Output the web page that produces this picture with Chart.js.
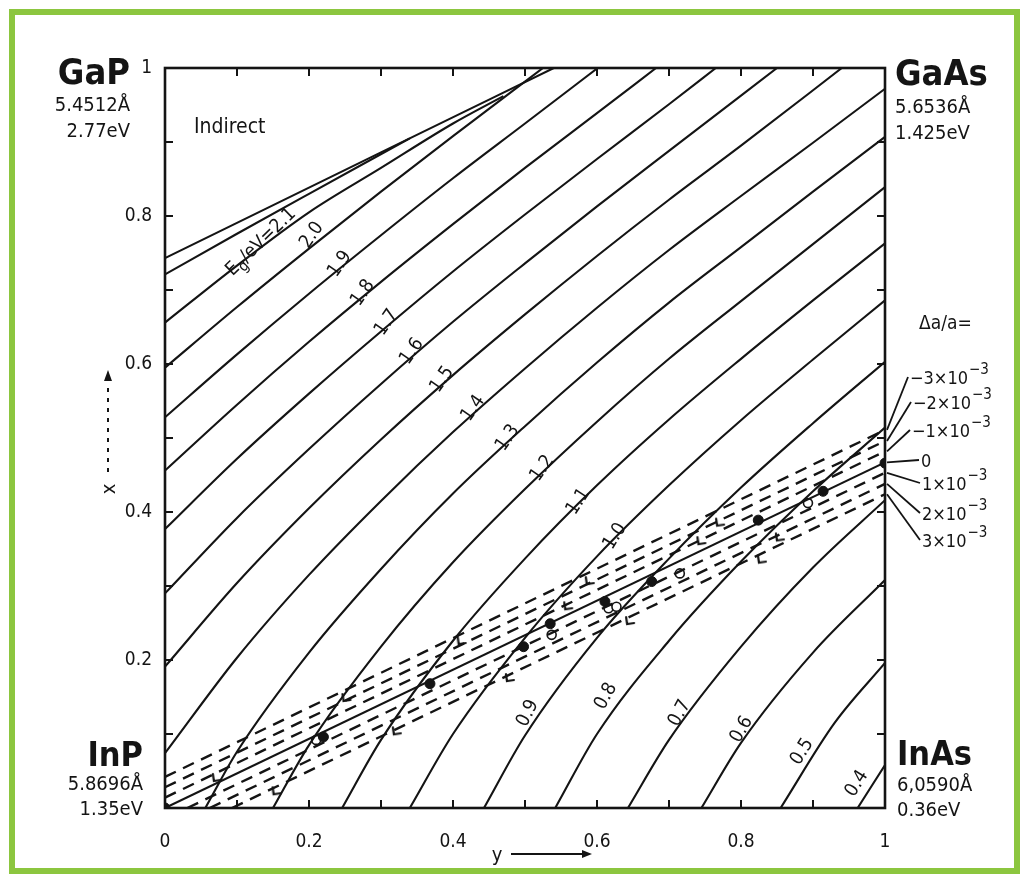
<!DOCTYPE html>
<html>
<head>
<meta charset="utf-8">
<script src="https://cdn.jsdelivr.net/npm/chart.js@4/dist/chart.umd.min.js"></script>
<style>
  html, body { margin: 0; padding: 0; background: #fff; }
  canvas { display: block; }
</style>
</head>
<body>
<canvas id="chart" width="1023" height="878"></canvas>
<script>
// Ga(x) In(1-x) As(y) P(1-y): band-gap contours and lattice-mismatch lines.
// Every curve is a list of [y, x] pairs: y = As fraction (horizontal), x = Ga fraction (vertical).

const yTickValues = [0, 0.2, 0.4, 0.6, 0.8, 1];
const xTickValues = [0.2, 0.4, 0.6, 0.8, 1];

// band-gap contours, Eg in eV
const eg04 = [[0.962, 0], [1, 0.058]];
const eg05 = [[0.855, 0], [0.93, 0.115], [1, 0.196]];
const eg06 = [[0.745, 0], [0.8, 0.088], [0.9, 0.21], [1, 0.308]];
const eg07 = [[0.643, 0], [0.7, 0.092], [0.8, 0.218], [0.9, 0.325], [1, 0.416]];
const eg08 = [[0.542, 0], [0.6, 0.100], [0.7, 0.226], [0.8, 0.333], [0.9, 0.428], [1, 0.514]];
const eg09 = [[0.443, 0], [0.5, 0.098], [0.6, 0.230], [0.7, 0.337], [0.8, 0.433], [0.9, 0.520], [1, 0.603]];
const eg10 = [[0.340, 0], [0.4, 0.100], [0.5, 0.230], [0.6, 0.340], [0.7, 0.436], [0.8, 0.524], [0.9, 0.606], [1, 0.686]];
const eg11 = [[0.246, 0], [0.3, 0.092], [0.4, 0.226], [0.5, 0.337], [0.6, 0.436], [0.7, 0.525], [0.8, 0.607], [0.9, 0.686], [1, 0.763]];
const eg12 = [[0.150, 0], [0.2, 0.085], [0.3, 0.218], [0.4, 0.332], [0.5, 0.431], [0.6, 0.522], [0.7, 0.607], [0.8, 0.685], [0.9, 0.762], [1, 0.839]];
const eg13 = [[0.056, 0], [0.1, 0.076], [0.2, 0.210], [0.3, 0.323], [0.4, 0.425], [0.5, 0.516], [0.6, 0.602], [0.7, 0.683], [0.8, 0.758], [0.9, 0.833], [1, 0.907]];
const eg14 = [[0, 0.074], [0.1, 0.203], [0.2, 0.315], [0.3, 0.415], [0.4, 0.508], [0.5, 0.594], [0.6, 0.676], [0.7, 0.754], [0.8, 0.827], [0.9, 0.899], [1, 0.972]];
const eg15 = [[0, 0.191], [0.1, 0.304], [0.2, 0.405], [0.3, 0.498], [0.4, 0.585], [0.5, 0.667], [0.6, 0.746], [0.7, 0.822], [0.8, 0.895], [0.94, 1]];
const eg16 = [[0, 0.290], [0.1, 0.392], [0.2, 0.485], [0.3, 0.573], [0.4, 0.657], [0.5, 0.736], [0.6, 0.813], [0.7, 0.888], [0.85, 1]];
const eg17 = [[0, 0.377], [0.1, 0.472], [0.2, 0.560], [0.3, 0.644], [0.4, 0.725], [0.5, 0.802], [0.6, 0.877], [0.7, 0.951], [0.765, 1]];
const eg18 = [[0, 0.456], [0.1, 0.545], [0.2, 0.630], [0.3, 0.711], [0.4, 0.789], [0.5, 0.865], [0.6, 0.939], [0.682, 1]];
const eg19 = [[0, 0.528], [0.1, 0.613], [0.2, 0.695], [0.3, 0.774], [0.4, 0.851], [0.5, 0.925], [0.601, 1]];
const eg20 = [[0, 0.595], [0.1, 0.677], [0.2, 0.756], [0.3, 0.833], [0.4, 0.908], [0.525, 1]];
const eg21 = [[0, 0.656], [0.1, 0.733], [0.2, 0.805], [0.3, 0.865], [0.4, 0.925], [0.47, 0.962]];
const eg22 = [[0, 0.721], [0.1, 0.776], [0.2, 0.830], [0.34, 0.905]];
// direct / indirect crossover
const indirectEdge = [[0, 0.743], [0.3, 0.886], [0.54, 1]];

// lattice mismatch relative to InP, Δa/a
const mismatchM3 = [[0, 0.042], [1, 0.511]];
const mismatchM2 = [[0, 0.028], [1, 0.496]];
const mismatchM1 = [[0, 0.014], [1, 0.482]];
const mismatch0  = [[0, 0], [1, 0.467]];
const mismatchP1 = [[0.031, 0], [1, 0.453]];
const mismatchP2 = [[0.062, 0], [1, 0.438]];
const mismatchP3 = [[0.093, 0], [1, 0.424]];

// measured lattice-matched samples
const samplesFilled = [[0, 0], [0.22, 0.096], [0.368, 0.168], [0.498, 0.218], [0.535, 0.249], [0.611, 0.279],
                       [0.676, 0.306], [0.824, 0.389], [0.914, 0.428], [1, 0.466]];
const samplesOpen = [[0.21, 0.092], [0.537, 0.234], [0.616, 0.270], [0.627, 0.272], [0.715, 0.317], [0.893, 0.412]];
// arrow marks where contours leave the ±3×10⁻³ band
const bandEdgeMarks = [[0.072, 0.042], [0.155, 0.024], [0.252, 0.150], [0.322, 0.105], [0.412, 0.227],
                       [0.479, 0.177], [0.560, 0.274], [0.590, 0.308], [0.646, 0.254], [0.745, 0.362],
                       [0.771, 0.387], [0.829, 0.337], [0.854, 0.367]];

// contour label texts
const gapLabelTexts = ['2.0', '1.9', '1.8', '1.7', '1.6', '1.5', '1.4', '1.3', '1.2', '1.1', '1.0',
                       '0.9', '0.8', '0.7', '0.6', '0.5', '0.4'];
const mismatchLabelTexts = ['−3×10', '−2×10', '−1×10', '0', '1×10', '2×10', '3×10'];

const FONT = '"DejaVu Sans Condensed", "Liberation Sans Narrow", "DejaVu Sans", sans-serif';
const INK = '#141414';

// where each contour label sits: [y, x, rotation in degrees]
const gapLabelSpots = [
  [0.204, 0.774, -55], [0.243, 0.735, -55], [0.275, 0.696, -55], [0.308, 0.656, -55], [0.343, 0.617, -55],
  [0.385, 0.579, -55], [0.428, 0.540, -55], [0.476, 0.500, -55], [0.524, 0.459, -55], [0.574, 0.414, -57],
  [0.625, 0.367, -58], [0.504, 0.128, -64], [0.6125, 0.151, -62], [0.715, 0.128, -62], [0.801, 0.106, -60],
  [0.885, 0.076, -58], [0.961, 0.033, -58]
];
// label anchors for the Δa/a legend on the right (canvas px): [left, baseline]
const mismatchLabelSpots = [[910, 384], [913, 409], [912, 437], [921, 467], [922, 490], [922, 520], [922, 547]];

// small open arrowhead used for the band-edge marks
const chevron = (() => {
  const c = document.createElement('canvas');
  c.width = 14; c.height = 14;
  const g = c.getContext('2d');
  g.strokeStyle = INK; g.lineWidth = 2.2; g.lineCap = 'round';
  g.beginPath(); g.moveTo(3, 4); g.lineTo(4, 11); g.lineTo(11, 10); g.stroke();
  return c;
})();

const pts = arr => arr.map(p => ({ x: p[0], y: p[1] }));
const contour = arr => ({
  data: pts(arr), showLine: true, pointRadius: 0, borderColor: INK, borderWidth: 2.1,
  cubicInterpolationMode: 'monotone', fill: false
});
const dashed = arr => ({
  data: pts(arr), showLine: true, pointRadius: 0, borderColor: INK, borderWidth: 2.4,
  borderDash: [12, 8], fill: false
});

const contours = [eg04, eg05, eg06, eg07, eg08, eg09, eg10, eg11, eg12, eg13, eg14, eg15, eg16,
                  eg17, eg18, eg19, eg20, eg21, eg22, indirectEdge];
const mismatchLines = [mismatchM3, mismatchM2, mismatchM1, mismatch0, mismatchP1, mismatchP2, mismatchP3];

const datasets = [
  ...contours.map(contour),
  ...mismatchLines.map((m, i) => i === 3
      ? { data: pts(m), showLine: true, pointRadius: 0, borderColor: INK, borderWidth: 2.1, fill: false }
      : dashed(m)),
  { data: pts(bandEdgeMarks), showLine: false, pointStyle: chevron, pointRadius: 7 },
  { data: pts(samplesFilled), showLine: false, pointRadius: 5, pointBackgroundColor: INK, pointBorderColor: INK },
  { data: pts(samplesOpen), showLine: false, pointRadius: 4.5, pointBackgroundColor: '#fff',
    pointBorderColor: INK, pointBorderWidth: 1.6 }
];

const fmt = v => (v === 0 ? '0' : v === 1 ? '1' : v.toFixed(1));

function textWithSup(ctx, base, sup, x, y, size) {
  ctx.font = `${size}px ${FONT}`;
  ctx.fillText(base, x, y);
  if (!sup) return;
  const w = ctx.measureText(base).width;
  ctx.font = `${Math.round(size * 0.85)}px ${FONT}`;
  ctx.fillText(sup, x + w + 1, y - size * 0.55);
}

const decor = {
  id: 'decor',
  afterDraw(chart) {
    const { ctx, chartArea: a, scales } = chart;
    const px = v => scales.x.getPixelForValue(v);
    const py = v => scales.y.getPixelForValue(v);
    ctx.save();

    // plot frame
    ctx.strokeStyle = INK;
    ctx.lineWidth = 2.6;
    ctx.strokeRect(a.left, a.top, a.right - a.left, a.bottom - a.top);

    // inward ticks every 0.1 on all four sides
    ctx.lineWidth = 2;
    ctx.beginPath();
    for (let i = 1; i < 10; i++) {
      const v = i / 10, X = px(v), Y = py(v);
      ctx.moveTo(X, a.bottom); ctx.lineTo(X, a.bottom - 8);
      ctx.moveTo(X, a.top); ctx.lineTo(X, a.top + 8);
      ctx.moveTo(a.left, Y); ctx.lineTo(a.left + 8, Y);
      ctx.moveTo(a.right, Y); ctx.lineTo(a.right - 8, Y);
    }
    ctx.stroke();

    ctx.fillStyle = INK;
    ctx.textBaseline = 'middle';
    ctx.textAlign = 'center';

    // contour labels
    ctx.font = `19px ${FONT}`;
    gapLabelTexts.forEach((t, i) => {
      const [yy, xx, rot] = gapLabelSpots[i];
      ctx.save();
      ctx.translate(px(yy), py(xx));
      ctx.rotate(rot * Math.PI / 180);
      ctx.fillText(t, 0, 0);
      ctx.restore();
    });

    // Eg/eV = 2.1 label with subscript g
    ctx.save();
    ctx.translate(px(0.139), py(0.770));
    ctx.rotate(-44 * Math.PI / 180);
    ctx.textAlign = 'left';
    ctx.font = `19px ${FONT}`;
    let cx = -50;
    ctx.fillText('E', cx, 0); cx += ctx.measureText('E').width;
    ctx.font = `15px ${FONT}`;
    ctx.fillText('g', cx, 6); cx += ctx.measureText('g').width;
    ctx.font = `19px ${FONT}`;
    ctx.fillText('/eV=2.1', cx, 0);
    ctx.restore();

    // region label
    ctx.textAlign = 'left';
    ctx.textBaseline = 'alphabetic';
    ctx.font = `21px ${FONT}`;
    ctx.fillText('Indirect', 194, 133);

    // binary compounds at the corners
    const corner = (lines, x, y0, align) => {
      ctx.textAlign = align;
      let y = y0;
      lines.forEach(([t, font, gap]) => { y += gap; ctx.font = `${font} ${FONT}`; ctx.fillText(t, x, y); });
    };
    corner([['GaP', 'bold 36px', 0], ['5.4512Å', '20px', 27], ['2.77eV', '20px', 26]], 130, 84, 'right');
    corner([['GaAs', 'bold 36px', 0], ['5.6536Å', '20px', 28], ['1.425eV', '20px', 26]], 895, 85, 'left');
    corner([['InP', 'bold 34px', 0], ['5.8696Å', '20px', 24], ['1.35eV', '20px', 25]], 143, 766, 'right');
    corner([['InAs', 'bold 34px', 0], ['6,0590Å', '20px', 26], ['0.36eV', '20px', 25]], 897, 765, 'left');

    // Δa/a legend with leaders to the dashed lines
    ctx.textAlign = 'left';
    ctx.font = `19px ${FONT}`;
    ctx.fillText('Δa/a=', 919, 329);
    ctx.lineWidth = 1.8;
    mismatchLines.forEach((m, i) => {
      const end = m[m.length - 1];
      const [lx, ly] = mismatchLabelSpots[i];
      ctx.beginPath();
      ctx.moveTo(px(end[0]) + 2, py(end[1]));
      ctx.lineTo(lx - 2, ly - 7);
      ctx.stroke();
      const t = mismatchLabelTexts[i];
      textWithSup(ctx, t, t === '0' ? '' : '−3', lx, ly, 18);
    });

    // axis titles with arrows
    ctx.font = `20px ${FONT}`;
    ctx.textAlign = 'center';
    ctx.fillText('y', 497, 861);
    ctx.lineWidth = 2;
    ctx.beginPath(); ctx.moveTo(511, 854); ctx.lineTo(584, 854); ctx.stroke();
    ctx.beginPath(); ctx.moveTo(592, 854); ctx.lineTo(582, 850); ctx.lineTo(582, 858); ctx.closePath(); ctx.fill();

    ctx.save();
    ctx.translate(115, 489);
    ctx.rotate(-Math.PI / 2);
    ctx.fillText('x', 0, 0);
    ctx.restore();
    ctx.setLineDash([4, 6]);
    ctx.beginPath(); ctx.moveTo(108, 472); ctx.lineTo(108, 384); ctx.stroke();
    ctx.setLineDash([]);
    ctx.beginPath(); ctx.moveTo(108, 370); ctx.lineTo(104, 381); ctx.lineTo(112, 381); ctx.closePath(); ctx.fill();

    // green picture frame
    ctx.strokeStyle = '#8cc63f';
    ctx.lineWidth = 6;
    ctx.strokeRect(12, 12, 1005, 859);

    ctx.restore();
  }
};

new Chart(document.getElementById('chart'), {
  type: 'scatter',
  data: { datasets },
  options: {
    responsive: false,
    animation: false,
    devicePixelRatio: 1,
    layout: { padding: { top: 68, right: 138, left: 0, bottom: 0 } },
    plugins: { legend: { display: false }, tooltip: { enabled: false } },
    scales: {
      x: {
        type: 'linear', min: 0, max: 1,
        afterBuildTicks: s => { s.ticks = yTickValues.map(v => ({ value: v })); },
        afterFit: s => { s.height = 70; },
        grid: { display: false, drawTicks: false },
        border: { display: false },
        ticks: { autoSkip: false, maxRotation: 0, padding: 23, color: INK,
                 font: { family: FONT, size: 19 }, callback: v => fmt(v) }
      },
      y: {
        type: 'linear', min: 0, max: 1,
        afterBuildTicks: s => { s.ticks = xTickValues.map(v => ({ value: v })); },
        afterFit: s => { s.width = 165; },
        grid: { display: false, drawTicks: false },
        border: { display: false },
        ticks: { autoSkip: false, padding: 13, color: INK,
                 font: { family: FONT, size: 19 }, callback: v => fmt(v) }
      }
    }
  },
  plugins: [decor]
});
</script>
</body>
</html>
